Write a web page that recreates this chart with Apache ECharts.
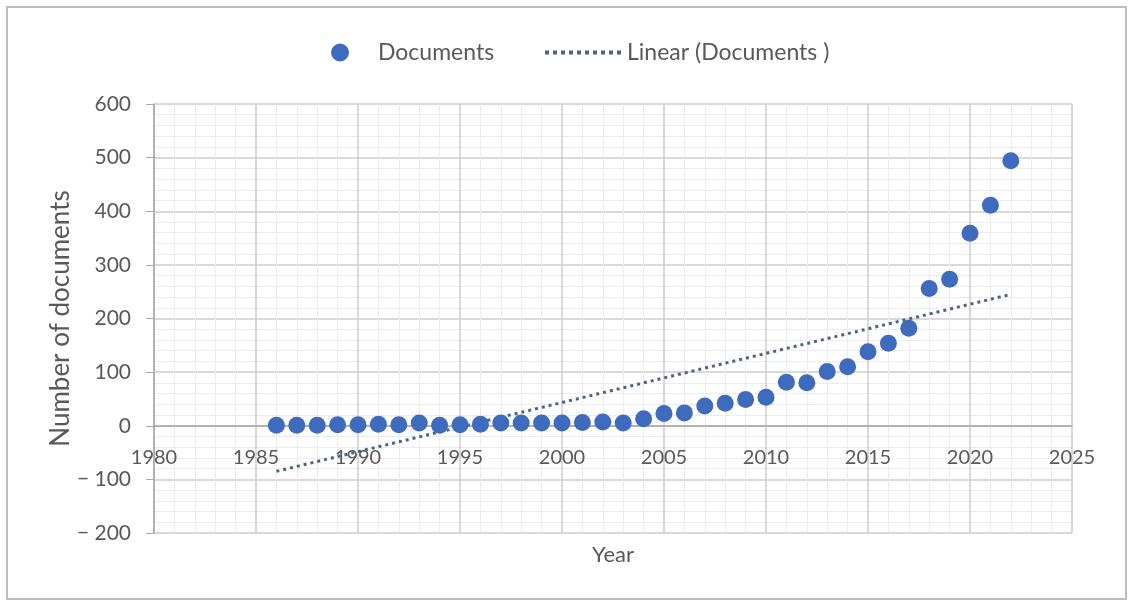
<!DOCTYPE html>
<html>
<head>
<meta charset="utf-8">
<script src="https://cdn.jsdelivr.net/npm/echarts@6/dist/echarts.min.js"></script>
<style>
  html, body { margin: 0; padding: 0; background: #fff; }
  #chart { width: 1129px; height: 603px; }
</style>
</head>
<body>
<div id="chart"></div>
<script>
// values
var years = [1986, 1987, 1988, 1989, 1990, 1991, 1992, 1993, 1994, 1995, 1996, 1997, 1998, 1999,
    2000, 2001, 2002, 2003, 2004, 2005, 2006, 2007, 2008, 2009, 2010, 2011, 2012, 2013, 2014,
    2015, 2016, 2017, 2018, 2019, 2020, 2021, 2022];
var documents = [1, 1, 1, 2, 2, 3, 2, 5, 1, 2, 3, 5, 5, 5,
    5, 6, 7, 5, 13, 23, 24, 37, 42, 49, 53, 81, 80, 101, 110,
    138, 154, 182, 256, 273, 359, 411, 494];
// trend line end points
var trendYears = [1986, 2022];
var trendValues = [-85, 245];

var font = 'Lato, "Open Sans", sans-serif';
var textColor = '#595959';
var trendColor = '#4a6580';
var dotColor = '#3f6bbf';

var scatterData = [];
for (let i = 0; i < years.length; i++) {
    scatterData.push([years[i], documents[i]]);
}
var trendData = [];
for (let i = 0; i < trendYears.length; i++) {
    trendData.push([trendYears[i], trendValues[i]]);
}

// dotted legend icon
var dotPath = 'path://';
for (let i = 0; i < 10; i++) {
    dotPath += 'M' + (i * 4) + ',0h2v2h-2z';
}

// the x axis crosses at y = 0: grid is 429px high for 800 units, 600 above zero
var gridTop = 104, gridHeight = 429;
var zeroOffset = -Math.round(gridHeight * 200 / 800);

var chart = echarts.init(document.getElementById('chart'));
chart.setOption({
    animation: false,
    textStyle: {fontFamily: font},
    graphic: [{
        type: 'rect',
        shape: {x: 7, y: 7, width: 1119, height: 592},
        style: {fill: 'none', stroke: '#bdbdbd', lineWidth: 2},
        silent: true
    }],
    legend: [{
        data: ['Documents'],
        left: 326,
        top: 36,
        itemWidth: 18,
        itemHeight: 18,
        icon: 'circle',
        itemStyle: {color: dotColor},
        textStyle: {fontSize: 23, color: textColor, fontFamily: font, padding: [0, 0, 0, 24]}
    }, {
        data: ['Linear (Documents )'],
        left: 540,
        top: 36,
        itemWidth: 78,
        itemHeight: 4,
        itemGap: 4,
        icon: dotPath,
        itemStyle: {color: trendColor},
        textStyle: {fontSize: 23, color: textColor, fontFamily: font, padding: [0, 0, 0, 0]}
    }],
    grid: {left: 154, right: 57, top: gridTop, height: gridHeight, containLabel: false, outerBoundsMode: 'none'},
    xAxis: {
        type: 'value',
        min: 1980,
        max: 2025,
        interval: 5,
        offset: zeroOffset,
        name: 'Year',
        nameLocation: 'middle',
        nameGap: 118,
        nameTextStyle: {fontSize: 22, color: textColor, fontFamily: font},
        axisLine: {show: true, onZero: false, lineStyle: {color: '#a6a6a6', width: 1.5}},
        axisTick: {show: false},
        axisLabel: {
            fontSize: 20, color: textColor, margin: 22, fontFamily: font,
            formatter: function (v) { return String(v); }
        },
        splitLine: {lineStyle: {color: '#cdcdcd', width: 1.5}},
        minorTick: {show: false, splitNumber: 5},
        minorSplitLine: {show: true, lineStyle: {color: '#ececec'}}
    },
    yAxis: {
        type: 'value',
        min: -200,
        max: 600,
        interval: 100,
        name: 'Number of documents',
        nameLocation: 'middle',
        nameGap: 80,
        nameMoveOverlap: false,
        nameTextStyle: {fontSize: 26, color: textColor, fontFamily: font},
        axisLine: {show: true, onZero: false, lineStyle: {color: '#a6a6a6', width: 1.5}},
        axisTick: {show: true, length: 8, lineStyle: {color: '#a6a6a6'}},
        axisLabel: {
            fontSize: 21, color: textColor, margin: 23, fontFamily: font,
            formatter: function (v) {
                return v < 0 ? '\u2212 ' + Math.abs(v) : String(v);
            }
        },
        splitLine: {lineStyle: {color: '#cdcdcd', width: 1.5}},
        minorTick: {show: false, splitNumber: 5},
        minorSplitLine: {show: true, lineStyle: {color: '#ececec'}}
    },
    series: [{
        name: 'Documents',
        type: 'scatter',
        symbolSize: 17,
        itemStyle: {color: dotColor, opacity: 1},
        data: scatterData,
        z: 3
    }, {
        name: 'Linear (Documents )',
        type: 'line',
        symbol: 'none',
        lineStyle: {color: trendColor, width: 3, type: [3, 4]},
        itemStyle: {color: trendColor},
        data: trendData,
        z: 2
    }]
});
</script>
</body>
</html>
